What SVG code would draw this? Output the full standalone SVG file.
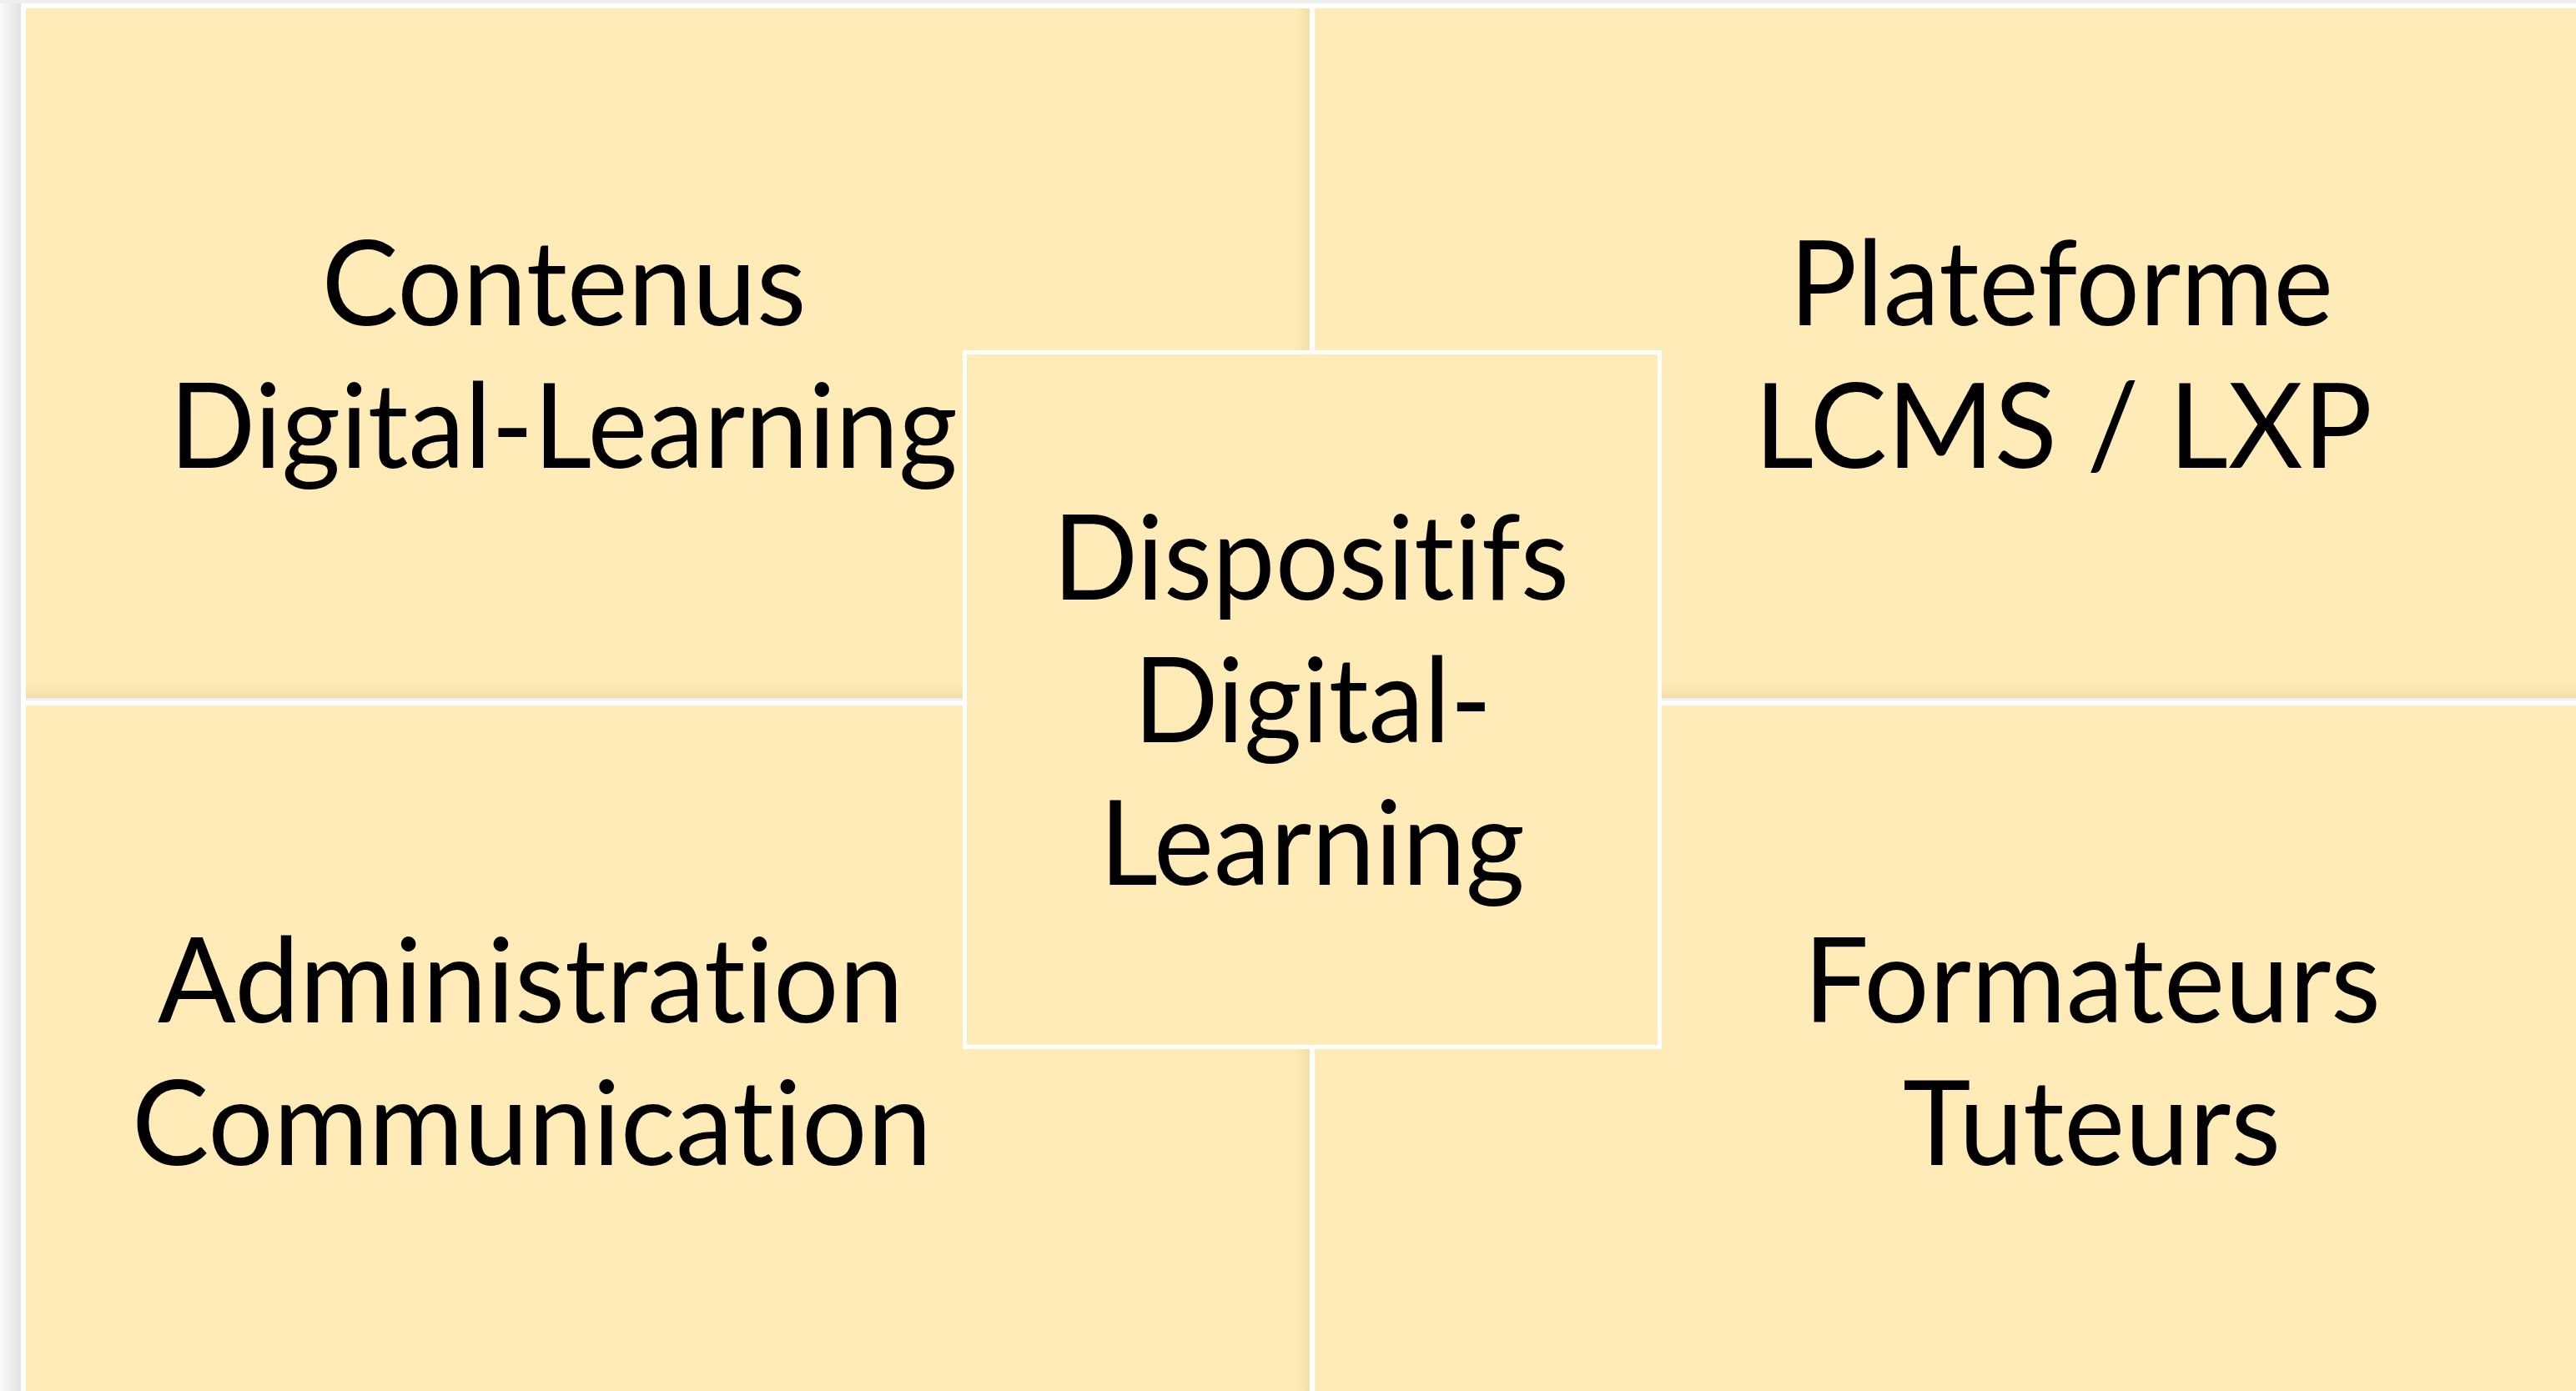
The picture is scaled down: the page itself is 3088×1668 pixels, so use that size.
<svg xmlns="http://www.w3.org/2000/svg" width="3088" height="1668" viewBox="0 0 3088 1668">
  <defs>
    <linearGradient id="leftShadow" x1="0" y1="0" x2="1" y2="0">
      <stop offset="0" stop-color="#fbfbfb"/>
      <stop offset="1" stop-color="#e2e2e2"/>
    </linearGradient>
    <linearGradient id="edgeRight" x1="0" y1="0" x2="1" y2="0">
      <stop offset="0" stop-color="#e8cf95" stop-opacity="0"/>
      <stop offset="1" stop-color="#e8cf95" stop-opacity="0.45"/>
    </linearGradient>
    <linearGradient id="edgeBottom" x1="0" y1="0" x2="0" y2="1">
      <stop offset="0" stop-color="#e8cf95" stop-opacity="0"/>
      <stop offset="1" stop-color="#e8cf95" stop-opacity="0.45"/>
    </linearGradient>
    <style>
      .cell { fill: #feebb8; }
      .center { fill: #feebb8; stroke: #ffffff; stroke-width: 5; }
      .lbl { font-family: Lato, "Open Sans", "Liberation Sans", sans-serif; font-size: 142px; fill: #000000; text-anchor: middle; font-variant-ligatures: none; font-feature-settings: "liga" 0, "clig" 0, "dlig" 0; }
    </style>
  </defs>

  <!-- page background -->
  <rect x="0" y="0" width="3088" height="1668" fill="#ffffff"/>
  <rect x="0" y="0" width="3088" height="4" fill="#efefef"/>
  <rect x="0" y="4" width="25" height="1664" fill="url(#leftShadow)"/>

  <g id="node-contenus">
    <rect class="cell" x="31" y="10" width="1539" height="827"/>
    <rect x="1552" y="10" width="18" height="827" fill="url(#edgeRight)"/>
    <rect x="31" y="819" width="1539" height="18" fill="url(#edgeBottom)"/>
    <rect x="31" y="837" width="1539" height="3" fill="#efefef"/>
    <text class="lbl" x="676" y="390" textLength="581" lengthAdjust="spacingAndGlyphs">Contenus</text>
    <text class="lbl" x="675.5" y="561" textLength="945" lengthAdjust="spacingAndGlyphs">Digital-Learning</text>
  </g>

  <g id="node-plateforme">
    <rect class="cell" x="1576" y="10" width="1512" height="827"/>
    <rect x="1576" y="819" width="1512" height="18" fill="url(#edgeBottom)"/>
    <rect x="1576" y="837" width="1512" height="3" fill="#efefef"/>
    <text class="lbl" x="2471" y="390" textLength="652" lengthAdjust="spacingAndGlyphs">Plateforme</text>
    <text class="lbl" x="2473.5" y="561" textLength="741" lengthAdjust="spacingAndGlyphs">LCMS / LXP</text>
  </g>

  <g id="node-administration">
    <rect class="cell" x="31" y="846" width="1539" height="822"/>
    <rect x="1552" y="846" width="18" height="822" fill="url(#edgeRight)"/>
    <text class="lbl" x="636" y="1226" textLength="894" lengthAdjust="spacingAndGlyphs">Administration</text>
    <text class="lbl" x="637.5" y="1397" textLength="959" lengthAdjust="spacingAndGlyphs">Communication</text>
  </g>

  <g id="node-formateurs">
    <rect class="cell" x="1576" y="846" width="1512" height="822"/>
    <text class="lbl" x="2508" y="1226" textLength="692" lengthAdjust="spacingAndGlyphs">Formateurs</text>
    <text class="lbl" x="2507.5" y="1397" textLength="453" lengthAdjust="spacingAndGlyphs">Tuteurs</text>
  </g>

  <g id="node-dispositifs">
    <rect class="center" x="1156.5" y="422.5" width="833" height="833"/>
    <text class="lbl" x="1571.5" y="719" textLength="619" lengthAdjust="spacingAndGlyphs">Dispositifs</text>
    <text class="lbl" x="1573.5" y="890" textLength="429" lengthAdjust="spacingAndGlyphs">Digital-</text>
    <text class="lbl" x="1573" y="1061" textLength="510" lengthAdjust="spacingAndGlyphs">Learning</text>
  </g>

  <g id="connectors"></g>
</svg>
